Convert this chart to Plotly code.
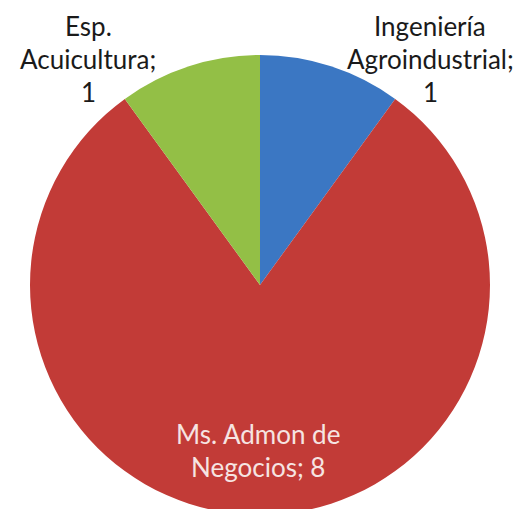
import plotly.graph_objects as go

categories = ["Ingeniería<br>Agroindustrial", "Ms. Admon de<br>Negocios", "Esp.<br>Acuicultura"]
values = [1, 8, 1]
colors = ["#3B77C3", "#C23B37", "#93BF46"]

W, H = 523, 509
fig = go.Figure(go.Pie(
    labels=categories,
    values=values,
    sort=False,
    direction="clockwise",
    rotation=0,
    marker=dict(colors=colors, line=dict(width=0)),
    textinfo="none",
    hoverinfo="label+value",
    showlegend=False,
    domain=dict(x=[22 / W, 482 / W], y=[2 / H, 462 / H]),
))

font_family = "Lato, 'Open Sans', sans-serif"

# label lines: name lines, last one gets "; value"; outer labels put value on own line
def label_lines(name, value, value_own_line):
    parts = name.split("<br>")
    if value_own_line:
        return parts[:-1] + [parts[-1] + ";", str(value)]
    return parts[:-1] + [parts[-1] + "; " + str(value)]

layouts = [
    (422, 18, True, "#1a1a1a"),
    (250, 426, False, "#F6E4E2"),
    (80, 18, True, "#1a1a1a"),
]
step = 33
for name, val, (px, py0, own, col) in zip(categories, values, layouts):
    for i, line in enumerate(label_lines(name, val, own)):
        py = py0 + i * step
        fig.add_annotation(
            x=px / W, y=1 - py / H, xref="paper", yref="paper",
            text=line, showarrow=False, xanchor="center", yanchor="middle",
            font=dict(family=font_family, size=26, color=col),
            align="center", borderpad=0,
        )

fig.update_layout(
    width=W, height=H,
    margin=dict(l=0, r=0, t=0, b=0),
    paper_bgcolor="white",
    plot_bgcolor="white",
)

fig.write_html("out.html")
